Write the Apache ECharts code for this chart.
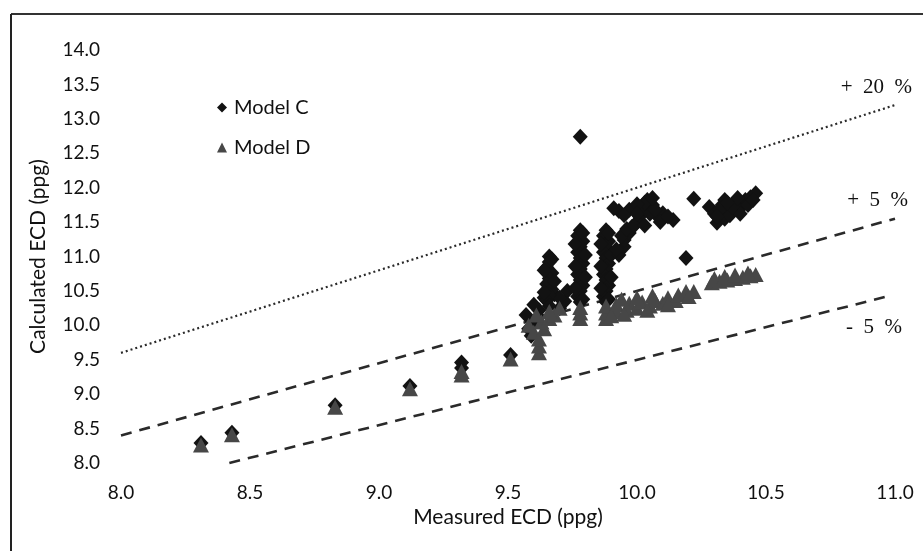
<!DOCTYPE html>
<html>
<head>
<meta charset="utf-8">
<script src="https://cdn.jsdelivr.net/npm/echarts@6/dist/echarts.min.js"></script>
<style>
  html, body { margin: 0; padding: 0; background: #fff; }
  #chart { width: 923px; height: 551px; }
</style>
</head>
<body>
<div id="chart"></div>
<script>
// Axis ranges and tick step (ppg)
const xRange = [8.0, 11.0];
const yRange = [8.0, 14.0];
const tickStep = 0.5;

// Model C: [measured ECD, calculated ECD]
const modelC = [
  [8.31, 8.29], [8.43, 8.44], [8.83, 8.84], [9.12, 9.12], [9.32, 9.46], [9.32, 9.38], [9.51, 9.57],
  [9.59, 9.85], [9.58, 9.95], [9.60, 10.05], [9.57, 10.15], [9.62, 10.22], [9.60, 10.30], [9.64, 10.40],
  [9.68, 10.45], [9.70, 10.25], [9.72, 10.35], [9.73, 10.50], [9.62, 10.12], [9.70, 10.40],
  [9.66, 11.00], [9.66, 10.92], [9.65, 10.84], [9.67, 10.76], [9.66, 10.68], [9.65, 10.60], [9.67, 10.52],
  [9.66, 10.44], [9.65, 10.36], [9.66, 10.28], [9.67, 10.96], [9.64, 10.80], [9.68, 10.64], [9.64, 10.48],
  [9.78, 11.38], [9.77, 11.30], [9.79, 11.22], [9.78, 11.14], [9.77, 11.06], [9.78, 10.98], [9.79, 10.90],
  [9.78, 10.82], [9.77, 10.74], [9.78, 10.66], [9.79, 10.58], [9.78, 10.50], [9.77, 10.42], [9.78, 10.34],
  [9.79, 11.34], [9.76, 11.18], [9.80, 11.02], [9.76, 10.86], [9.80, 10.70], [9.76, 10.54], [9.79, 10.38],
  [9.88, 11.38], [9.87, 11.30], [9.89, 11.22], [9.88, 11.14], [9.87, 11.06], [9.88, 10.98], [9.89, 10.90],
  [9.88, 10.82], [9.87, 10.74], [9.88, 10.66], [9.89, 10.58], [9.88, 10.50], [9.87, 10.42], [9.88, 10.34],
  [9.89, 11.34], [9.86, 11.18], [9.90, 11.02], [9.86, 10.86], [9.90, 10.70], [9.86, 10.54], [9.89, 10.38],
  [9.93, 11.02], [9.95, 11.14], [9.95, 11.24], [9.97, 11.34], [9.98, 11.43], [9.93, 11.66], [9.97, 11.68],
  [10.01, 11.58], [10.04, 11.82], [10.06, 11.75], [10.08, 11.58], [10.10, 11.63], [10.14, 11.53],
  [10.00, 11.50], [10.02, 11.70], [9.92, 11.10], [9.94, 11.30], [9.96, 11.40], [9.99, 11.45],
  [10.03, 11.45], [10.05, 11.62], [10.07, 11.68], [10.09, 11.50], [10.12, 11.58], [10.03, 11.78],
  [10.00, 11.76], [9.95, 11.60], [9.91, 11.70], [10.06, 11.85], [10.00, 11.62],
  [10.22, 11.84], [10.19, 10.98], [9.78, 12.74],
  [10.28, 11.72], [10.30, 11.62], [10.31, 11.49], [10.34, 11.55], [10.33, 11.75], [10.36, 11.68],
  [10.38, 11.78], [10.40, 11.70], [10.42, 11.82], [10.44, 11.86], [10.46, 11.92], [10.36, 11.60],
  [10.40, 11.62], [10.34, 11.82], [10.32, 11.68], [10.37, 11.72], [10.39, 11.85], [10.43, 11.75],
  [10.45, 11.82], [10.31, 11.58], [10.35, 11.78]
];

// Model D: [measured ECD, calculated ECD]
const modelD = [
  [8.31, 8.26], [8.43, 8.41], [8.83, 8.81], [9.12, 9.08], [9.32, 9.28], [9.32, 9.33], [9.51, 9.51],
  [9.62, 9.60], [9.62, 9.70], [9.62, 9.80], [9.60, 9.90], [9.64, 9.95], [9.58, 10.00], [9.63, 10.05],
  [9.66, 10.10], [9.68, 10.15], [9.61, 10.15], [9.70, 10.25], [9.66, 10.20],
  [9.78, 10.10], [9.78, 10.18], [9.78, 10.26], [9.88, 10.10], [9.88, 10.18], [9.88, 10.28],
  [9.92, 10.20], [9.92, 10.30], [9.96, 10.22], [9.97, 10.32], [10.00, 10.25], [10.02, 10.34],
  [10.05, 10.28], [10.07, 10.36], [10.10, 10.32], [10.12, 10.40], [10.15, 10.36], [10.16, 10.44],
  [10.19, 10.49], [10.22, 10.49], [10.20, 10.42], [9.94, 10.38], [10.00, 10.40], [10.06, 10.43],
  [9.90, 10.14], [9.95, 10.16], [10.04, 10.22], [10.12, 10.30],
  [10.29, 10.62], [10.32, 10.64], [10.35, 10.66], [10.38, 10.68], [10.41, 10.70], [10.44, 10.72],
  [10.46, 10.74], [10.30, 10.68], [10.34, 10.71], [10.38, 10.73], [10.43, 10.76]
];

// Error band reference lines (+20 %, +5 %, -5 %)
const linePlus20 = [[8.0, 9.6], [11.0, 13.2]];
const linePlus5 = [[8.0, 8.4], [11.0, 11.55]];
const lineMinus5 = [[8.42, 8.0], [10.97, 10.42]];
const bandLabels = ['+\u200220\u2002%', '+\u20025\u2002%', '-\u20025\u2002%'];
const seriesNames = ['Model C', 'Model D'];

const chart = echarts.init(document.getElementById('chart'));
const axisFont = { fontFamily: 'Lato', fontSize: 19, color: '#111' };
const nameFont = { fontFamily: 'Lato', fontSize: 21, color: '#111' };
const refLine = (data, type, width) => ({
  type: 'line', data: data, showSymbol: false, silent: true, clip: false,
  lineStyle: { color: '#2a2a2a', width: width, type: type, cap: 'butt' }, z: 1
});

chart.setOption({
  animation: false,
  backgroundColor: '#fff',
  grid: { left: 121, right: 28, top: 50, bottom: 88 },
  xAxis: {
    type: 'value', min: xRange[0], max: xRange[1], interval: tickStep,
    name: 'Measured ECD (ppg)', nameLocation: 'middle', nameGap: 40,
    nameTextStyle: nameFont,
    axisLine: { show: false }, axisTick: { show: false }, splitLine: { show: false },
    axisLabel: Object.assign({ margin: 20, formatter: v => v.toFixed(1) }, axisFont)
  },
  yAxis: {
    type: 'value', min: yRange[0], max: yRange[1], interval: tickStep,
    name: 'Calculated ECD (ppg)', nameLocation: 'middle', nameGap: 72,
    nameTextStyle: nameFont,
    axisLine: { show: false }, axisTick: { show: false }, splitLine: { show: false },
    axisLabel: Object.assign({ margin: 21, formatter: v => v.toFixed(1) }, axisFont)
  },
  legend: {
    data: [
      { name: seriesNames[0], icon: 'diamond' },
      { name: seriesNames[1], icon: 'triangle' }
    ],
    orient: 'vertical', left: 212, top: 92, itemWidth: 10, itemHeight: 10, itemGap: 19,
    textStyle: { fontFamily: 'Lato', fontSize: 20, color: '#111', lineHeight: 21, padding: [0, 0, 0, 2] }
  },
  series: [
    refLine(linePlus20, [2, 3], 2.2),
    refLine(linePlus5, [11, 8], 2.6),
    refLine(lineMinus5, [11, 8], 2.6),
    {
      name: seriesNames[0], type: 'scatter', data: modelC, symbol: 'diamond', symbolSize: [15, 16],
      itemStyle: { color: '#121212', opacity: 1 }, z: 3
    },
    {
      name: seriesNames[1], type: 'scatter', data: modelD, symbol: 'triangle', symbolSize: [16, 15],
      itemStyle: { color: '#474747', opacity: 1 }, z: 4
    }
  ],
  graphic: [
    { type: 'line', shape: { x1: 11, y1: 14, x2: 923, y2: 14 }, style: { stroke: '#333', lineWidth: 2 } },
    { type: 'line', shape: { x1: 11, y1: 14, x2: 11, y2: 551 }, style: { stroke: '#222', lineWidth: 2 } },
    { type: 'text', right: 11, top: 77, style: { text: bandLabels[0], font: '21px "Liberation Serif"', fill: '#111' } },
    { type: 'text', right: 15, top: 190, style: { text: bandLabels[1], font: '21px "Liberation Serif"', fill: '#111' } },
    { type: 'text', right: 21, top: 317, style: { text: bandLabels[2], font: '21px "Liberation Serif"', fill: '#111' } }
  ]
});
</script>
</body>
</html>
